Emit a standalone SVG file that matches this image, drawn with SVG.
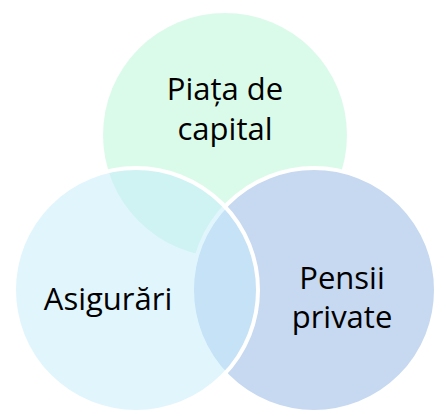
<svg xmlns="http://www.w3.org/2000/svg" width="434" height="410" viewBox="0 0 434 410">
<style>
.lbl{font-family:"Open Sans","Noto Sans","Liberation Sans",sans-serif;font-size:31px;fill:#000;text-anchor:middle}
.ring{stroke:#fff;stroke-width:4}
</style>
<rect width="434" height="410" fill="#fff"/>
<g id="node-piata">
<circle cx="225" cy="135" r="122" fill="#dbfbea"/>
<text class="lbl" x="225" y="100">Piața de</text>
<text class="lbl" x="225" y="140">capital</text>
</g>
<g id="node-pensii">
<circle class="ring" cx="314" cy="290" r="122" fill="#c6d9f1"/>
<text class="lbl" x="342" y="289">Pensii</text>
<text class="lbl" x="342" y="328">private</text>
</g>
<g id="node-asigurari">
<circle class="ring" cx="136" cy="290" r="122" fill="#c3ebfb" fill-opacity="0.5"/>
<text class="lbl" x="108" y="310">Asigurări</text>
</g>
<g id="connectors"></g>
</svg>
